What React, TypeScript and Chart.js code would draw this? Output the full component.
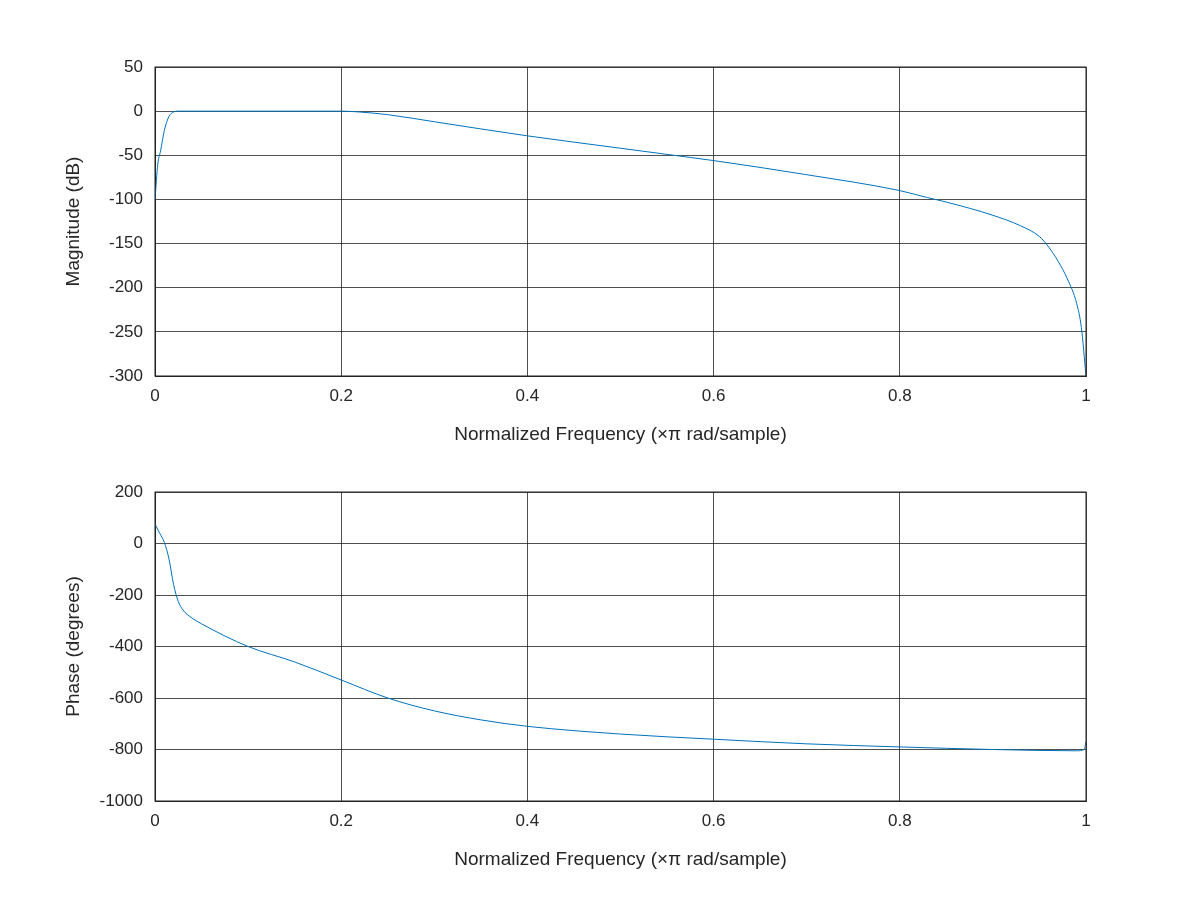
import React, { useEffect, useRef } from 'react';
import Chart from 'chart.js/auto';

const magFreq = [0, 0.003, 0.006, 0.01, 0.015, 0.02, 0.025, 0.1, 0.2, 0.22, 0.25, 0.3, 0.4, 0.5, 0.55, 0.6, 0.7, 0.8, 0.83, 0.85, 0.9, 0.93, 0.95, 0.96, 0.97, 0.98, 0.99, 0.995, 1];
const magDb = [-100, -60, -45, -22, -6, -1, 0, 0, 0, -1, -4, -12, -28, -42, -49, -56, -72, -90, -98, -103, -118, -130, -142, -154, -170, -190, -218, -245, -300];
const phaseFreq = [0, 0.005, 0.01, 0.015, 0.02, 0.025, 0.03, 0.04, 0.05, 0.1, 0.15, 0.2, 0.25, 0.3, 0.35, 0.4, 0.5, 0.6, 0.7, 0.8, 0.9, 0.99, 0.998, 1];
const phaseDeg = [75, 40, 5, -60, -160, -225, -258, -290, -312, -400, -460, -530, -600, -650, -685, -710, -740, -760, -778, -790, -800, -805, -800, -770];
const xTicks = [0, 0.2, 0.4, 0.6, 0.8, 1];

const FONT = { family: 'Liberation Sans, Arial, sans-serif', size: 17 };

function Plot({ xs, ys, yMin, yMax, yStep, yLabel }: { xs: number[]; ys: number[]; yMin: number; yMax: number; yStep: number; yLabel: string }) {
  const ref = useRef<HTMLCanvasElement>(null);
  useEffect(() => {
    if (!ref.current) return;
    const grid = { color: '#222', lineWidth: 0.8, drawTicks: false };
    const chart = new Chart(ref.current, {
      type: 'line',
      data: { datasets: [{ data: xs.map((x, i) => ({ x, y: ys[i] })), borderColor: '#0072BD', borderWidth: 1, pointRadius: 0, cubicInterpolationMode: 'monotone' }] },
      options: {
        animation: false, responsive: false,
        layout: { padding: { top: 67, right: 114, left: 58, bottom: 0 } },
        plugins: { legend: { display: false }, tooltip: { enabled: false } },
        scales: {
          x: {
            type: 'linear', min: 0, max: 1,
            afterBuildTicks: (s: any) => { s.ticks = xTicks.map(v => ({ value: v })); },
            afterFit: (s: any) => { s.height = 74; },
            grid, border: { color: '#222' },
            ticks: { font: FONT, color: '#262626', padding: 10, callback: (v: any) => String(v) },
            title: { display: true, text: 'Normalized Frequency (×π rad/sample)', font: { ...FONT, size: 19 }, color: '#262626', padding: { top: 2 } },
          },
          y: {
            min: yMin, max: yMax,
            afterFit: (s: any) => { s.width = 97; },
            grid, border: { color: '#222' },
            ticks: { stepSize: yStep, font: FONT, color: '#262626', padding: 12, callback: (v: any) => String(v) },
            title: { display: true, text: yLabel, font: { ...FONT, size: 19 }, color: '#262626', padding: { bottom: 0 } },
          },
        },
      },
      plugins: [{
        id: 'frame',
        afterDraw: (c: any) => {
          const { left, right, top, bottom } = c.chartArea;
          const ctx = c.ctx;
          ctx.save(); ctx.strokeStyle = '#222'; ctx.lineWidth = 1;
          ctx.strokeRect(left, top, right - left, bottom - top);
          ctx.restore();
        },
      }],
    } as any);
    return () => chart.destroy();
  }, []);
  return <canvas ref={ref} width={1200} height={450} style={{ display: 'block' }} />;
}

export default function App() {
  return (
    <div style={{ position: 'fixed', left: 0, top: 0, width: 1200, height: 900, background: '#fff' }}>
      <div style={{ position: 'absolute', left: 0, top: 0 }}>
        <Plot xs={magFreq} ys={magDb} yMin={-300} yMax={50} yStep={50} yLabel="Magnitude (dB)" />
      </div>
      <div style={{ position: 'absolute', left: 0, top: 425 }}>
        <Plot xs={phaseFreq} ys={phaseDeg} yMin={-1000} yMax={200} yStep={200} yLabel="Phase (degrees)" />
      </div>
    </div>
  );
}
